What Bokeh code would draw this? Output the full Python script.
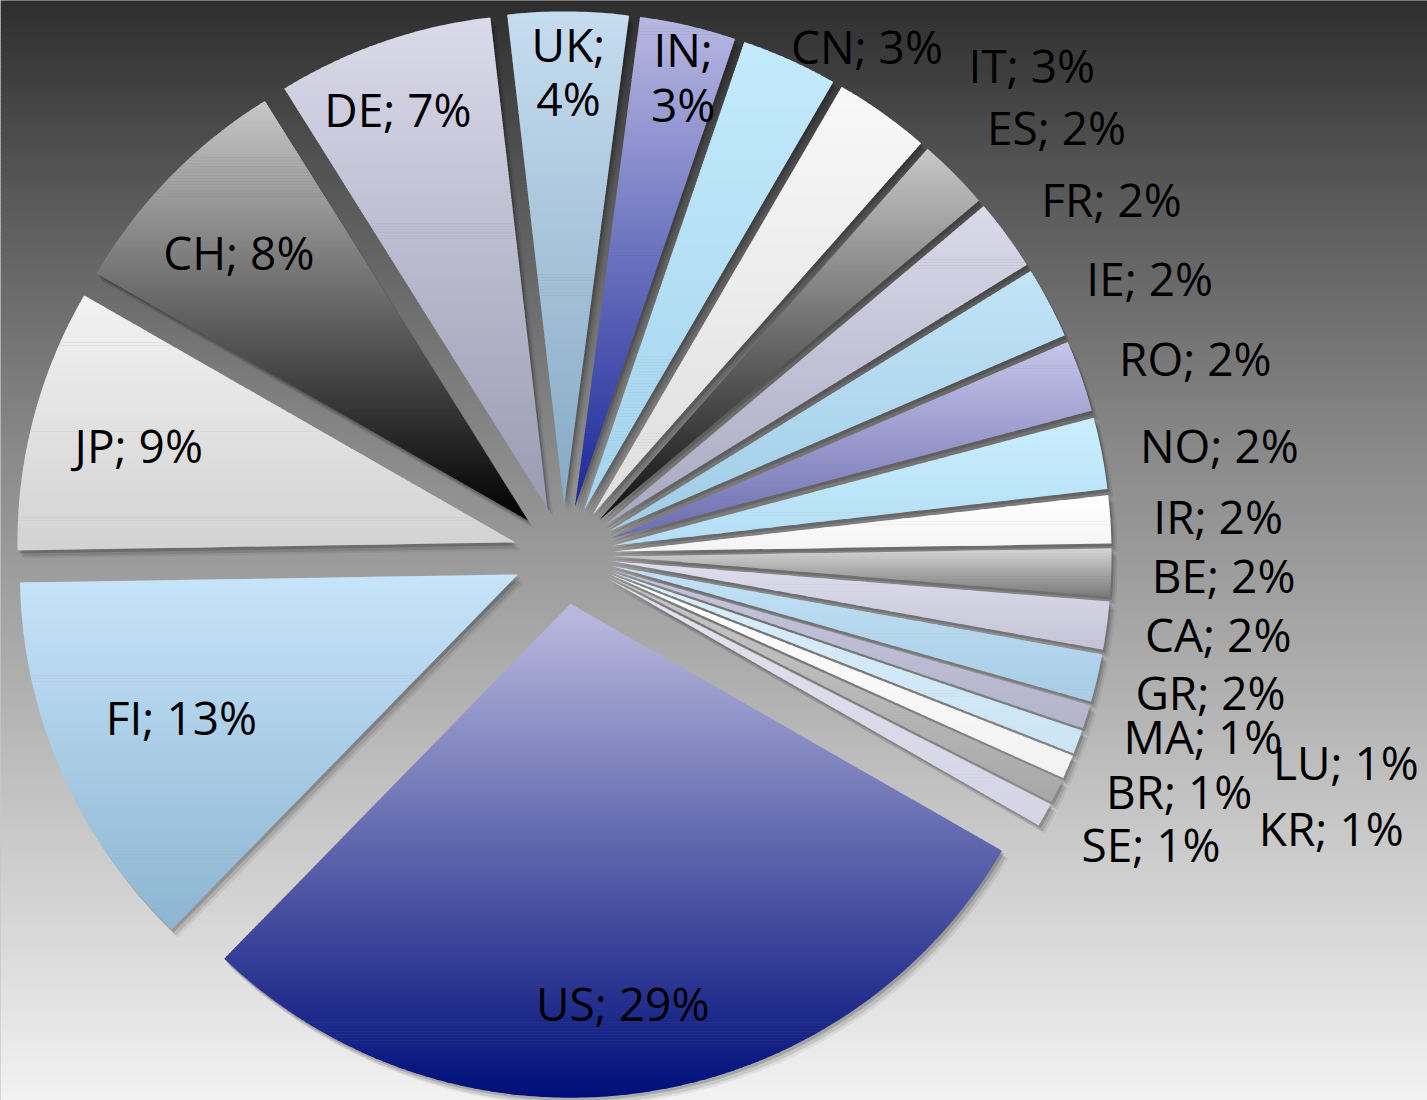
import numpy as np
from bokeh.plotting import figure
from bokeh.models import ColumnDataSource, Range1d
from bokeh.embed import file_html
from bokeh.resources import INLINE
from bokeh.core.properties import value

# ---------------- data ----------------
countries = ["US", "FI", "JP", "CH", "DE", "UK", "IN", "CN", "IT", "ES", "FR", "IE",
             "RO", "NO", "IR", "BE", "CA", "GR", "MA", "LU", "BR", "KR", "SE"]
counts = [37, 16, 11, 10, 9, 5, 4, 4, 4, 3, 3, 3, 3, 3, 2, 2, 2, 2, 1, 1, 1, 1, 1]

# ---------------- style / layout ----------------
grad_top = ["#bcbcdf", "#c6e4fa", "#f2f2f2", "#c8c8c8", "#dadaea", "#c6dcef",
            "#b8b8e2", "#c4eafc", "#f8f8f8", "#c8c8c8", "#dadaea", "#c2e4f8",
            "#c6c6ea", "#caeefe", "#ffffff", "#d6d6d6", "#dedeee", "#c2e2f6",
            "#c4c4dc", "#daeefc", "#ffffff", "#c8c8c8", "#e2e2f0"]
grad_bottom = ["#000e7a", "#8db5d1", "#d2d2d2", "#000000", "#9a9ab2", "#86a9c4",
               "#1a2898", "#a4d4ee", "#dedede", "#101010", "#a8a8c0", "#a0cce6",
               "#6c6cb0", "#b4def4", "#f4f4f4", "#7a7a7a", "#c4c4d6", "#a8cce6",
               "#b4b4cc", "#cce4f4", "#f2f2f2", "#a8a8a8", "#d4d4e4"]
label_r = [0.924, 0.838, 0.88, 0.89, 0.954, 0.971, 0.99, 1.19, 1.36, 1.31, 1.31, 1.30,
           1.327, 1.334, 1.316, 1.326, 1.325, 1.33, 1.337, 1.628, 1.328, 1.64, 1.32]
label_dphi = [0.6, -0.2, -0.4, -1.2, -1.2, 0.1, 0.9, 6.4, 8.1, 3.6, 3.2, 2.5,
              2.1, 1.5, 0.65, 0.2, -0.2, -0.7, -1.1, -4.9, -1.5, -5.8, -1.9]
two_line = ["UK", "IN"]
bg_stops_y = [0, 200, 360, 450, 640, 830, 1100]      # pixel rows
bg_stops_v = [46, 90, 120, 137, 168, 200, 242]       # grey level

W, H = 1427, 1100
SX, SY = 498.0, 494.0          # pixels per unit radius
CX, CY = 563.2, 554.3          # pie centre in pixels (from top-left)
EXPLODE = 0.1
START = 120.0                  # first slice angle, clockwise from 12 o'clock
FONT = "Open Sans"
FONT_SIZE = "46px"


def hex_rgb(h):
    h = h.lstrip("#")
    return np.array([int(h[i:i + 2], 16) for i in (0, 2, 4)], dtype=float)


def rgb_hex(c):
    c = np.clip(np.round(c), 0, 255).astype(int)
    return "#%02x%02x%02x" % tuple(c)


def clip_half(px, py, y0, keep_below):
    ox, oy = [], []
    n = len(px)
    for i in range(n):
        x1, y1 = px[i - 1], py[i - 1]
        x2, y2 = px[i], py[i]
        in1 = (y1 <= y0) if keep_below else (y1 >= y0)
        in2 = (y2 <= y0) if keep_below else (y2 >= y0)
        if in2:
            if not in1:
                t = (y0 - y1) / (y2 - y1)
                ox.append(x1 + t * (x2 - x1)); oy.append(y0)
            ox.append(x2); oy.append(y2)
        elif in1:
            t = (y0 - y1) / (y2 - y1)
            ox.append(x1 + t * (x2 - x1)); oy.append(y0)
    return ox, oy


x0r, x1r = -CX / SX, (W - CX) / SX
y0r, y1r = -(H - CY) / SY, CY / SY

p = figure(width=W, height=H, output_backend="svg", toolbar_location=None,
           x_range=Range1d(x0r, x1r), y_range=Range1d(y0r, y1r),
           x_axis_type=None, y_axis_type=None, min_border=0)
p.outline_line_color = None
p.grid.visible = False
p.background_fill_color = "#909090"
p.border_fill_color = "#909090"

# ---------------- background gradient ----------------
nb = 275
edges = np.linspace(0, H, nb + 1)
bx_t, bx_b, bcol = [], [], []
for k in range(nb):
    ya, yb = edges[k], edges[k + 1]
    g = np.interp((ya + yb) / 2, bg_stops_y, bg_stops_v)
    bx_t.append((CY - ya + 0.6) / SY)
    bx_b.append((CY - yb) / SY)
    bcol.append(rgb_hex([g, g, g]))
p.quad(left=x0r, right=x1r, top=bx_t, bottom=bx_b, fill_color=bcol, line_color=None)

# ---------------- slices ----------------
vals = np.array(counts, dtype=float)
total = vals.sum()
spans = vals / total * 360.0
starts = START + np.concatenate([[0], np.cumsum(spans)[:-1]])
bis = starts + spans / 2

sh_xs, sh_ys, sh_a = [], [], []
gx, gy, gc = [], [], []
lab_x, lab_y, lab_t = [], [], []
for i, c in enumerate(countries):
    a0, a1 = np.radians(starts[i]), np.radians(starts[i] + spans[i])
    am = np.radians(bis[i])
    ox, oy = EXPLODE * np.sin(am), EXPLODE * np.cos(am)
    n = max(6, int(spans[i] * 2))
    th = np.linspace(a0, a1, n)
    px = [ox] + list(ox + np.sin(th))
    py = [oy] + list(oy + np.cos(th))
    # shadows
    for (dx, dy, al) in [(2, 3, 0.16), (4, 6, 0.10), (6, 8, 0.06)]:
        sh_xs.append([v + dx / SX for v in px])
        sh_ys.append([v - dy / SY for v in py])
        sh_a.append(al)
    # gradient bands
    ymin, ymax = min(py), max(py)
    top_c, bot_c = hex_rgb(grad_top[i]), hex_rgb(grad_bottom[i])
    nbands = max(6, int(np.ceil((ymax - ymin) * SY / 3.0)))
    step = (ymax - ymin) / nbands
    for k in range(nbands):
        hi = ymax - k * step + 0.7 / SY
        lo = ymax - (k + 1) * step
        qx, qy = clip_half(px, py, hi, True)
        if len(qx) < 3:
            continue
        qx, qy = clip_half(qx, qy, lo, False)
        if len(qx) < 3:
            continue
        t = (k + 0.5) / nbands
        gx.append(qx); gy.append(qy)
        gc.append(rgb_hex(top_c + t * (bot_c - top_c)))
    # label
    pc = int(np.floor(vals[i] / total * 100 + 0.5))
    sep = "\n" if c in two_line else " "
    phi = np.radians(bis[i] + label_dphi[i])
    lab_x.append(label_r[i] * np.sin(phi))
    lab_y.append(label_r[i] * np.cos(phi))
    lab_t.append(f"{c};{sep}{pc}%")

p.patches(xs="xs", ys="ys", fill_color="black", fill_alpha="a", line_color=None,
          source=ColumnDataSource(dict(xs=sh_xs, ys=sh_ys, a=sh_a)))
p.patches(xs="xs", ys="ys", fill_color="c", line_color=None,
          source=ColumnDataSource(dict(xs=gx, ys=gy, c=gc)))

p.text(x="x", y="y", text="t", source=ColumnDataSource(dict(x=lab_x, y=lab_y, t=lab_t)),
       text_align="center", text_baseline="middle", text_font=value(FONT),
       text_font_size=FONT_SIZE, text_color="black", text_line_height=0.88,
       y_offset=-4)

open("out.html", "w").write(file_html(p, INLINE))
